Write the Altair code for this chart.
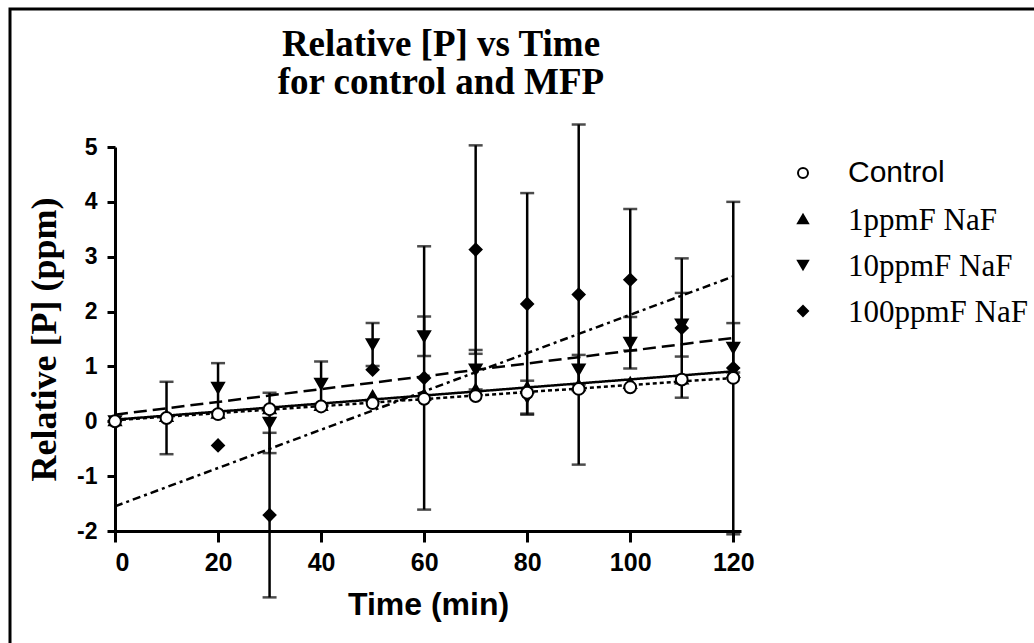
import altair as alt
import pandas as pd

# ---------------- data ----------------
series_names = ["Control", "1ppmF NaF", "10ppmF NaF", "100ppmF NaF"]

ctrl_t = [0, 10, 20, 30, 40, 50, 60, 70, 80, 90, 100, 110, 120]
ctrl_y = [0.0, 0.06, 0.13, 0.22, 0.27, 0.33, 0.41, 0.46, 0.52, 0.59, 0.62, 0.76, 0.79]
ctrl_e = [0.0, 0.66, 0.0, 0.0, 0.0, 0.0, 0.0, 0.0, 0.0, 0.0, 0.0, 0.0, 0.0]

p1_t = [0, 10, 20, 30, 40, 50, 60, 70, 80, 90, 100, 110, 120]
p1_y = [0.02, 0.10, 0.16, 0.24, 0.30, 0.46, 0.48, 0.58, 0.62, 0.66, 0.70, 0.78, 0.90]
p1_e = [0.0, 0.0, 0.0, 0.0, 0.0, 0.0, 0.0, 0.0, 0.0, 0.0, 0.0, 0.0, 0.0]

p10_t = [0, 20, 30, 40, 50, 60, 70, 80, 90, 100, 110, 120]
p10_y = [0.0, 0.61, -0.03, 0.68, 1.40, 1.55, 0.94, 0.44, 0.94, 1.43, 1.76, 1.34]
p10_e = [0.0, 0.45, 0.55, 0.41, 0.39, 0.36, 0.36, 0.30, 0.27, 0.47, 0.58, 0.45]

p100_t = [0, 20, 30, 50, 60, 70, 80, 90, 100, 110, 120]
p100_y = [0.0, -0.44, -1.71, 0.94, 0.79, 3.13, 2.14, 2.31, 2.58, 1.70, 0.97]
p100_e = [0.0, 0.0, 1.50, 0.0, 2.40, 1.90, 2.02, 3.10, 1.29, 1.27, 3.03]

# linear fits: value at t=0 and at t=120
fit_t0 = 0
fit_t1 = 120
fit_start = [0.02, 0.03, 0.12, -1.55]
fit_end = [0.79, 0.91, 1.52, 2.64]

x_ticks = [0, 20, 40, 60, 80, 100, 120]
y_ticks = [-2, -1, 0, 1, 2, 3, 4, 5]

title_lines = ["Relative [P] vs Time", "for control and MFP"]
x_title = "Time (min)"
y_title = "Relative [P] (ppm)"

# ---------------- tables ----------------
groups = [
    ("100ppmF NaF", p100_t, p100_y, p100_e),
    ("10ppmF NaF", p10_t, p10_y, p10_e),
    ("1ppmF NaF", p1_t, p1_y, p1_e),
    ("Control", ctrl_t, ctrl_y, ctrl_e),
]
rows = []
for name, ts, ys, es in groups:
    for t, v, e in zip(ts, ys, es):
        rows.append({"series": name, "t": t, "v": v, "e": e, "lo": v - e, "hi": v + e})
pts = pd.DataFrame(rows)
err = pts[pts["e"] > 0]

caps = pd.concat([
    err[["series", "t", "lo"]].rename(columns={"lo": "c"}),
    err[["series", "t", "hi"]].rename(columns={"hi": "c"}),
])

fits = pd.DataFrame(
    [{"series": s, "t": fit_t0, "v": a} for s, a in zip(series_names, fit_start)]
    + [{"series": s, "t": fit_t1, "v": b} for s, b in zip(series_names, fit_end)]
)

leg = pd.DataFrame({"series": series_names})

xs = alt.Scale(domain=[0, 121.5], nice=False, zero=False)
ys = alt.Scale(domain=[-2, 5], nice=False, zero=False)

shape_enc = alt.Shape(
    "series:N",
    scale=alt.Scale(domain=series_names,
                    range=["circle", "triangle-up", "triangle-down", "diamond"]),
    legend=None,
)
fill_enc = alt.Fill(
    "series:N",
    scale=alt.Scale(domain=series_names, range=["white", "black", "black", "black"]),
    legend=None,
)

x_enc = alt.X("t:Q", scale=xs, title=x_title,
              axis=alt.Axis(values=x_ticks, labelExpr="'' + datum.value", grid=False))
y_enc = alt.Y("v:Q", scale=ys, title=y_title,
              axis=alt.Axis(values=y_ticks, labelExpr="'' + datum.value", grid=False))

lines = alt.Chart(fits).mark_line(color="black", strokeWidth=2.5, clip=False).encode(
    x=x_enc,
    y=y_enc,
    strokeDash=alt.StrokeDash(
        "series:N",
        scale=alt.Scale(domain=series_names,
                        range=[[4, 3], [1, 0], [13, 6], [8, 4, 3, 4]]),
        legend=None,
    ),
)

bars = alt.Chart(err).mark_rule(color="black", strokeWidth=2.5, clip=False).encode(
    x=alt.X("t:Q", scale=xs),
    y=alt.Y("lo:Q", scale=ys),
    y2="hi:Q",
)

capmarks = alt.Chart(caps).mark_tick(
    color="black", orient="horizontal", size=14, thickness=2.5, clip=False
).encode(
    x=alt.X("t:Q", scale=xs),
    y=alt.Y("c:Q", scale=ys),
)

points = alt.Chart(pts).mark_point(
    filled=True, stroke="black", strokeWidth=2, size=140, opacity=1, clip=False
).encode(
    x=alt.X("t:Q", scale=xs),
    y=alt.Y("v:Q", scale=ys),
    shape=shape_enc,
    fill=fill_enc,
)

frame = alt.Chart(pd.DataFrame({"a": [0]})).mark_rect(
    fill=None, stroke="black", strokeWidth=3, clip=False
).encode(
    x=alt.value(-105), x2=alt.value(940), y=alt.value(-138), y2=alt.value(520)
)

main = alt.layer(lines, bars, capmarks, points, frame)

# ---------------- legend (own vertical point scale) ----------------
leg_y = alt.Y("series:N", sort=series_names, axis=None,
              scale=alt.Scale(type="point", domain=series_names, range=[26, 164], padding=0))

leg_sym = alt.Chart(leg).mark_point(
    filled=True, stroke="black", strokeWidth=2, size=100, opacity=1, clip=False
).encode(x=alt.value(688), y=leg_y, shape=shape_enc, fill=fill_enc)

leg_txt_sans = alt.Chart(leg).transform_filter(
    alt.datum.series == series_names[0]
).mark_text(
    align="left", baseline="middle", font="Liberation Sans", fontSize=30,
    color="black", clip=False
).encode(x=alt.value(733), y=leg_y, text="series:N")

leg_txt_serif = alt.Chart(leg).transform_filter(
    alt.datum.series != series_names[0]
).mark_text(
    align="left", baseline="middle", font="Liberation Serif", fontSize=31,
    color="black", clip=False, dy=2
).encode(x=alt.value(733), y=leg_y, text="series:N")

legend_layer = alt.layer(leg_sym, leg_txt_sans, leg_txt_serif)

chart = alt.layer(main, legend_layer).resolve_scale(y="independent").properties(
    width=626,
    height=384,
    title=alt.Title(
        text=title_lines,
        font="Liberation Serif",
        fontSize=37,
        fontWeight="bold",
        lineHeight=38,
        color="black",
        anchor="middle",
        dx=13,
        dy=151,
        offset=20,
        baseline="bottom",
    ),
    autosize=alt.AutoSizeParams(type="none"),
    padding={"left": 115, "top": 147, "right": 293, "bottom": 112},
    background="white",
).configure_view(stroke=None).configure_axis(
    domainColor="black",
    domainWidth=3,
    tickColor="black",
    tickWidth=3,
    labelColor="black",
    labelFont="Liberation Sans",
    labelFontWeight="bold",
    titleColor="black",
).configure_axisX(
    tickSize=11,
    labelPadding=8,
    labelFontSize=25,
    titleFont="Liberation Sans",
    titleFontSize=32,
    titleFontWeight="bold",
    titlePadding=14,
).configure_axisY(
    tickSize=8,
    labelPadding=10,
    labelFontSize=23,
    titleFont="Liberation Serif",
    titleFontSize=36,
    titleFontWeight="bold",
    titlePadding=13,
)

chart.save("out.html", embed_options={"renderer": "svg", "actions": False})
